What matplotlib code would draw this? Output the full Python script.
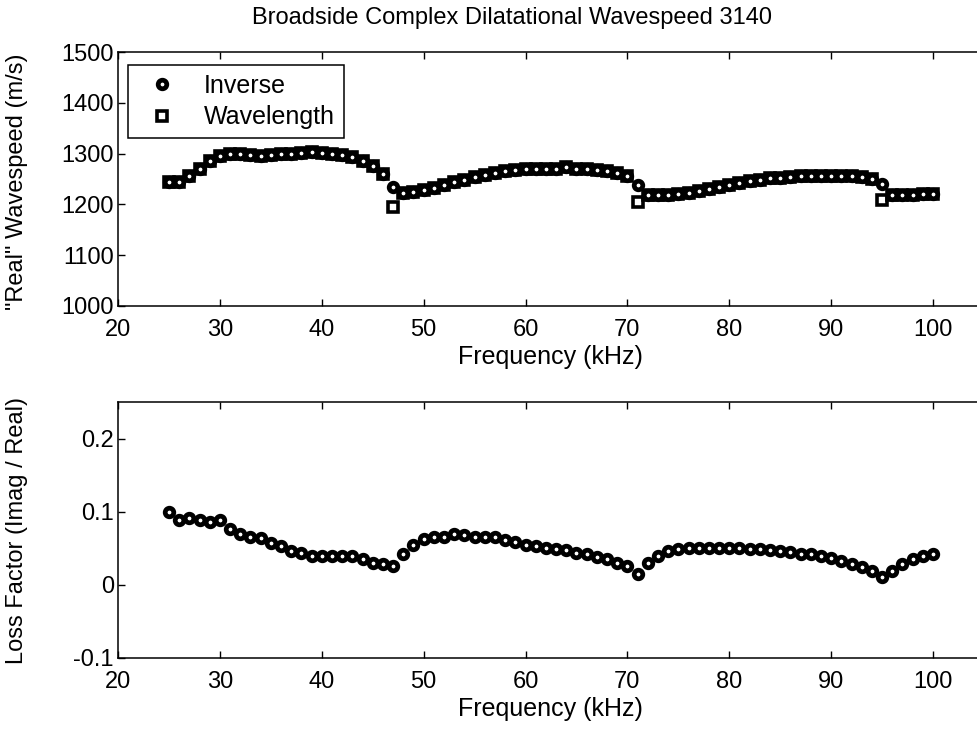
import matplotlib
matplotlib.use("Agg")
import matplotlib.pyplot as plt
import numpy as np

plt.rcParams["font.family"] = ["Liberation Sans", "DejaVu Sans"]
plt.rcParams["axes.unicode_minus"] = False

freq_khz = np.arange(25, 101)

speed_inverse = [
    1245, 1245, 1255, 1270, 1285, 1295, 1300, 1300, 1298, 1295,
    1298, 1300, 1300, 1302, 1303, 1302, 1300, 1298, 1293, 1285,
    1275, 1260, 1235, 1222, 1224, 1228, 1233, 1238, 1244, 1249,
    1254, 1258, 1262, 1265, 1268, 1269, 1269, 1269, 1269, 1274,
    1269, 1269, 1268, 1265, 1262, 1255, 1238, 1218, 1218, 1218,
    1220, 1222, 1226, 1230, 1235, 1239, 1243, 1246, 1249, 1251,
    1252, 1253, 1255, 1256, 1256, 1256, 1256, 1255, 1254, 1250,
    1240, 1218, 1218, 1219, 1220, 1221,
]
speed_wavelength = [
    1245, 1245, 1255, 1270, 1285, 1295, 1300, 1300, 1298, 1295,
    1298, 1300, 1300, 1302, 1303, 1302, 1300, 1298, 1293, 1285,
    1275, 1260, 1195, 1222, 1224, 1228, 1233, 1238, 1244, 1249,
    1254, 1258, 1262, 1265, 1268, 1269, 1269, 1269, 1269, 1274,
    1269, 1269, 1268, 1265, 1262, 1255, 1205, 1218, 1218, 1218,
    1220, 1222, 1226, 1230, 1235, 1239, 1243, 1246, 1249, 1251,
    1252, 1253, 1255, 1256, 1256, 1256, 1256, 1255, 1254, 1250,
    1209, 1218, 1218, 1219, 1220, 1221,
]
loss_factor = [
    0.100, 0.088, 0.091, 0.089, 0.086, 0.088, 0.076, 0.070, 0.066, 0.064,
    0.057, 0.053, 0.046, 0.043, 0.040, 0.040, 0.040, 0.039, 0.039, 0.035,
    0.030, 0.028, 0.026, 0.042, 0.054, 0.063, 0.066, 0.066, 0.069, 0.068,
    0.066, 0.066, 0.065, 0.062, 0.058, 0.055, 0.053, 0.050, 0.049, 0.048,
    0.043, 0.042, 0.038, 0.035, 0.030, 0.026, 0.015, 0.030, 0.039, 0.046,
    0.049, 0.050, 0.051, 0.051, 0.051, 0.051, 0.051, 0.049, 0.049, 0.048,
    0.046, 0.045, 0.042, 0.042, 0.039, 0.037, 0.033, 0.029, 0.024, 0.019,
    0.011, 0.019, 0.028, 0.035, 0.039, 0.042,
]

speed_ticks = [1000, 1100, 1200, 1300, 1400, 1500]
loss_ticks = [-0.1, 0, 0.1, 0.2]
loss_tick_labels = ["-0.1", "0", "0.1", "0.2"]
freq_ticks = [20, 30, 40, 50, 60, 70, 80, 90, 100]

W, H = 978, 732

fig = plt.figure(figsize=(W / 100, H / 100), dpi=100)
ax1 = fig.add_axes([118 / W, 1 - 306 / H, 866 / W, 254 / H])
ax2 = fig.add_axes([118 / W, 1 - 658 / H, 866 / W, 256 / H])

circ = dict(marker="o", ls="none", mfc="none", mec="black", ms=6.2, mew=3.4)
sq = dict(marker="s", ls="none", mfc="none", mec="black", ms=7.2, mew=2.6)

ax1.plot(freq_khz, speed_inverse, label="Inverse", **circ)
ax1.plot(freq_khz, speed_wavelength, label="Wavelength", **sq)
ax2.plot(freq_khz, loss_factor, **circ)

for ax in (ax1, ax2):
    ax.set_xlim(20, 105)
    ax.set_xticks(freq_ticks)
    ax.tick_params(direction="in", length=5, width=1, top=True, right=True,
                   labelsize=17)
    ax.tick_params(axis="x", pad=9.5)
    ax.tick_params(axis="y", pad=3)
    for sp in ax.spines.values():
        sp.set_linewidth(1.1)
    ax.set_xlabel("Frequency (kHz)", fontsize=18, va="center")

ax1.set_ylim(1000, 1500)
ax1.set_yticks(speed_ticks)
ax2.set_ylim(-0.1, 0.25)
ax2.set_yticks(loss_ticks)
ax2.set_yticklabels(loss_tick_labels)

ax1.xaxis.set_label_coords((550 - 118) / 866, -(357 - 306) / 254)
ax2.xaxis.set_label_coords((550 - 118) / 866, -(709 - 658) / 256)

fig.text(17 / W, 1 - 182 / H, '"Real" Wavespeed (m/s)', rotation=90,
         ha="center", va="center", fontsize=17)
fig.text(17 / W, 1 - 531 / H, "Loss Factor (Imag / Real)", rotation=90,
         ha="center", va="center", fontsize=17)
fig.text(512 / W, 1 - 18 / H, "Broadside Complex Dilatational Wavespeed 3140",
         ha="center", va="center", fontsize=17)

leg = ax1.legend(loc="upper left", bbox_to_anchor=((128 - 118) / 866, (306 - 65) / 254),
                 borderaxespad=0, fontsize=18, fancybox=False, framealpha=1,
                 edgecolor="black", handletextpad=0.7, borderpad=0.35,
                 labelspacing=0.3)
leg.get_frame().set_linewidth(1.1)

fig.savefig("out.png", dpi=100)
